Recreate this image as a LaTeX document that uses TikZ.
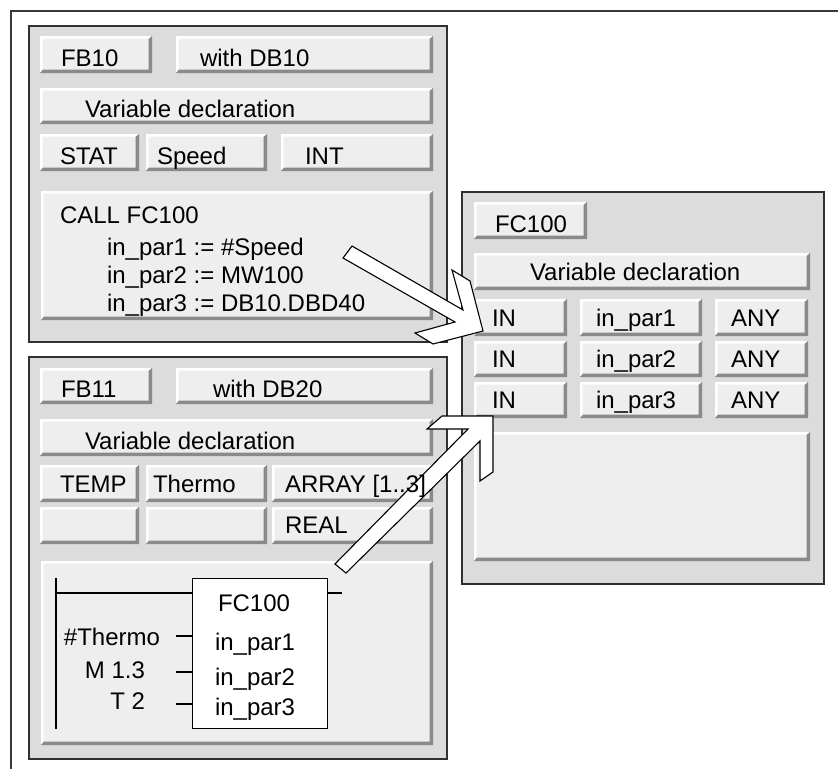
\documentclass[tikz,border=0pt]{standalone}
\usepackage{fontspec}
\setmainfont{Liberation Sans}
\definecolor{panelbg}{HTML}{DCDCDC}
\definecolor{panelline}{HTML}{303030}
\definecolor{btnfill}{HTML}{EEEEEE}
\definecolor{btnshadow}{HTML}{8A8A8A}
\definecolor{framecol}{HTML}{3A3A3A}
\tikzset{
  panel/.style={fill=panelbg, draw=panelline, line width=1.3pt},
  lbl/.style={anchor=base west, inner sep=0pt, outer sep=0pt, font=\fontsize{24}{28}\selectfont},
  lblr/.style={lbl, anchor=base east},
  blockarrow/.style={fill=white, draw=black, line width=1.1pt, line join=miter},
  wire/.style={draw=black, line width=1.8pt},
  fcbox/.style={fill=white, draw=black, line width=1.3pt},
}
\newcommand\sbtn[4]{%
  \fill[btnfill] (#1,#2) rectangle (#3,#4);
  \fill[white] (#1,#4) -- (#1,#2) -- (#3,#2) -- (#3-3,#2+2.5) -- (#1+2.5,#2+2.5) -- (#1+2.5,#4-3) -- cycle;
  \fill[btnshadow] (#1,#4) -- (#1+3,#4-3.5) -- (#3-3.5,#4-3.5) -- (#3-3.5,#2+3) -- (#3,#2) -- (#3,#4) -- cycle;
}
\begin{document}
\begin{tikzpicture}[x=1pt,y=-1pt]
\useasboundingbox (0,0) rectangle (838,769);
\fill[white] (0,0) rectangle (838,769);
% outer frame
\draw[framecol, line width=2pt] (11,769) -- (11,11) -- (838,11);

% ---------- Panel FB10 ----------
\draw[panel] (29,26) rectangle (447,342);
\sbtn{40}{36}{152}{73}
\sbtn{176}{36}{433}{73}
\sbtn{40}{88}{433}{124}
\sbtn{40}{134}{139}{171}
\sbtn{146}{134}{267}{171}
\sbtn{281}{134}{433}{171}
\sbtn{41}{191}{433}{320}

% ---------- Panel FB11 ----------
\draw[panel] (29,357) rectangle (447,759);
\sbtn{40}{368}{152}{404}
\sbtn{176}{368}{433}{404}
\sbtn{40}{419}{433}{456}
\sbtn{40}{465}{139}{502}
\sbtn{146}{465}{267}{502}
\sbtn{272}{465}{433}{502}
\sbtn{40}{507}{139}{544}
\sbtn{146}{507}{267}{544}
\sbtn{272}{507}{433}{544}
\sbtn{41}{561}{433}{745}

% ladder
\coordinate (railtop) at (56,578);
\coordinate (railbot) at (56,729);
\draw[wire] (railtop) -- (railbot);
\node[fcbox, anchor=north west, minimum width=135pt, minimum height=150pt, inner sep=0pt] (fcb) at (192,578) {};
\coordinate (hl) at (56,593);
\draw[wire] (hl) -- (hl -| fcb.west);
\coordinate (outr) at (342,593);
\draw[wire] (outr -| fcb.east) -- (outr);
\coordinate (p1) at (176,636);
\coordinate (p2) at (176,672);
\coordinate (p3) at (176,704);
\draw[wire] (p1) -- (p1 -| fcb.west);
\draw[wire] (p2) -- (p2 -| fcb.west);
\draw[wire] (p3) -- (p3 -| fcb.west);

% ---------- Panel FC100 ----------
\draw[panel] (462,192) rectangle (824,584);
\sbtn{474}{202}{587}{239}
\sbtn{474}{253}{810}{290}
\sbtn{474}{299}{567}{336}
\sbtn{580}{299}{702}{336}
\sbtn{715}{299}{808}{336}
\sbtn{474}{341}{567}{377}
\sbtn{580}{341}{702}{377}
\sbtn{715}{341}{808}{377}
\sbtn{474}{382}{567}{418}
\sbtn{580}{382}{702}{418}
\sbtn{715}{382}{808}{418}
\sbtn{474}{432}{810}{561}

% ---------- block arrows ----------
\draw[blockarrow] (352,246) -- (463,310) -- (452,270) -- (470,281) -- (483,331)
   -- (433,344) -- (415,333) -- (455,322) -- (343,258) -- cycle;
\draw[blockarrow] (335,564) -- (468,429) -- (427,429) -- (442,416) -- (493,416)
   -- (493,472) -- (480,481) -- (480,441) -- (346,573) -- cycle;

% ---------- texts ----------
\node[lbl] (t1) at (61,66) {FB10};
\node[lbl] (t2) at (200,66) {with DB10};
\node[lbl] (t3) at (85,117) {Variable declaration};
\node[lbl] (t4) at (60,164) {STAT};
\node[lbl] (t5) at (157,164) {Speed};
\node[lbl] (t6) at (305,164) {INT};
\node[lbl] (t7) at (60,223) {CALL FC100};
\node[lbl] (t8) at (107,255) {in\_par1 := \#Speed};
\node[lbl] (t9) at (107,283) {in\_par2 := MW100};
\node[lbl] (t10) at (107,311) {in\_par3 := DB10.DBD40};

\node[lbl] (u1) at (61,397) {FB11};
\node[lbl] (u2) at (213,397) {with DB20};
\node[lbl] (u3) at (85,449) {Variable declaration};
\node[lbl] (u4) at (60,492) {TEMP};
\node[lbl] (u5) at (153,492) {Thermo};
\node[lbl] (u6) at (285,492) {ARRAY [1..3]};
\node[lbl] (u7) at (285,533) {REAL};
\node[lbl] (u8) at (218,611) {FC100};
\node[lbl] (u9) at (215,650) {in\_par1};
\node[lbl] (u10) at (215,685) {in\_par2};
\node[lbl] (u11) at (215,715) {in\_par3};
\node[lblr] (u12) at (160,645) {\#Thermo};
\node[lblr] (u13) at (145,678) {M 1.3};
\node[lblr] (u14) at (145,709) {T 2};

\node[lbl] (v1) at (495,232) {FC100};
\node[lbl] (v2) at (530,280) {Variable declaration};
\node[lbl] (v3) at (492,326) {IN};
\node[lbl] (v4) at (596,326) {in\_par1};
\node[lbl] (v5) at (731,326) {ANY};
\node[lbl] (v6) at (492,367) {IN};
\node[lbl] (v7) at (596,367) {in\_par2};
\node[lbl] (v8) at (731,367) {ANY};
\node[lbl] (v9) at (492,408) {IN};
\node[lbl] (v10) at (596,408) {in\_par3};
\node[lbl] (v11) at (731,408) {ANY};
\end{tikzpicture}
\end{document}
